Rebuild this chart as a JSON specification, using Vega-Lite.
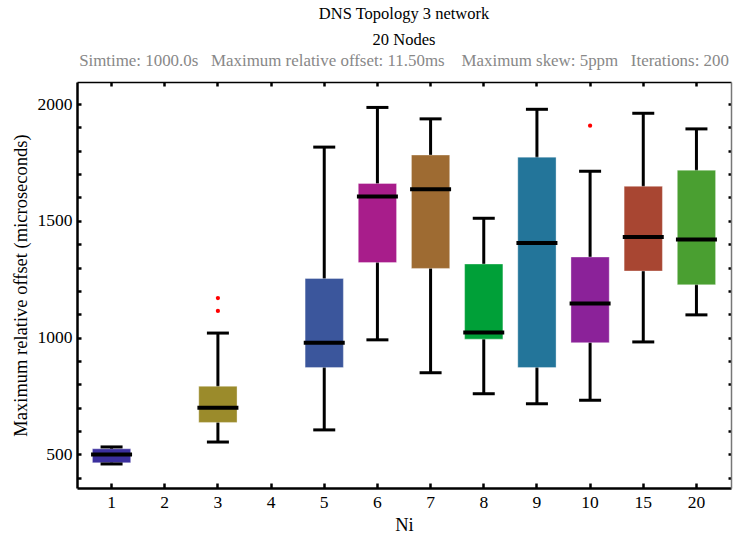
{
  "$schema": "https://vega.github.io/schema/vega-lite/v6.json",
  "width": 654,
  "height": 406,
  "autosize": {"type": "none"},
  "padding": {"left": 77, "top": 82, "right": 3, "bottom": 49},
  "background": "white",
  "config": {
    "view": {"stroke": null},
    "axis": {"grid": false, "labelFont": "Liberation Serif", "titleFont": "Liberation Serif", "labelColor": "black", "titleColor": "black", "titleFontWeight": "normal"}
  },
  "title": {
    "text": ["DNS Topology 3 network", "20 Nodes"],
    "subtitle": "Simtime: 1000.0s\u00a0\u00a0\u00a0Maximum relative offset: 11.50ms\u00a0\u00a0\u00a0\u00a0Maximum skew: 5ppm\u00a0\u00a0\u00a0Iterations: 200",
    "font": "Liberation Serif",
    "subtitleFont": "Liberation Serif",
    "fontSize": 16.5,
    "fontWeight": "normal",
    "lineHeight": 26,
    "color": "black",
    "subtitleFontSize": 16.9,
    "subtitleColor": "#888888",
    "subtitlePadding": 4,
    "anchor": "middle",
    "offset": 12
  },
  "datasets": {
    "boxes": [
      {"Ni": "1", "lo": 458, "q1": 463, "med": 499, "q3": 523, "hi": 531},
      {"Ni": "3", "lo": 552, "q1": 636, "med": 699, "q3": 791, "hi": 1019},
      {"Ni": "5", "lo": 604, "q1": 871, "med": 977, "q3": 1253, "hi": 1816},
      {"Ni": "6", "lo": 990, "q1": 1321, "med": 1604, "q3": 1660, "hi": 1986},
      {"Ni": "7", "lo": 849, "q1": 1296, "med": 1635, "q3": 1782, "hi": 1937},
      {"Ni": "8", "lo": 759, "q1": 993, "med": 1021, "q3": 1315, "hi": 1511},
      {"Ni": "9", "lo": 716, "q1": 871, "med": 1405, "q3": 1773, "hi": 1978},
      {"Ni": "10", "lo": 731, "q1": 978, "med": 1146, "q3": 1345, "hi": 1713},
      {"Ni": "15", "lo": 981, "q1": 1285, "med": 1431, "q3": 1648, "hi": 1961},
      {"Ni": "20", "lo": 1097, "q1": 1226, "med": 1420, "q3": 1717, "hi": 1894}
    ],
    "outliers": [
      {"Ni": "3", "v": 1169},
      {"Ni": "3", "v": 1114},
      {"Ni": "10", "v": 1908}
    ]
  },
  "resolve": {"axis": {"x": "independent", "y": "independent"}},
  "layer": [
    {
      "data": {"name": "boxes"},
      "mark": {"type": "rule", "strokeWidth": 3, "color": "black"},
      "encoding": {
        "x": {
          "field": "Ni", "type": "ordinal",
          "scale": {"domain": ["1", "2", "3", "4", "5", "6", "7", "8", "9", "10", "15", "20"], "paddingInner": 0.28, "paddingOuter": 0.29},
          "axis": {"orient": "bottom", "title": "Ni", "titleFontSize": 18.5, "labelFontSize": 17.5, "labelAngle": 0, "tickSize": -5, "tickWidth": 2.5, "tickColor": "black", "domainColor": "black", "domainWidth": 2.5, "labelPadding": 10, "titlePadding": 5}
        },
        "y": {
          "field": "lo", "type": "quantitative",
          "scale": {"domain": [355, 2095], "nice": false, "zero": false},
          "axis": {"orient": "left", "title": "Maximum relative offset (microseconds)", "titleFontSize": 18.5, "labelFontSize": 17.5,
            "values": [400, 500, 600, 700, 800, 900, 1000, 1100, 1200, 1300, 1400, 1500, 1600, 1700, 1800, 1900, 2000],
            "labelExpr": "datum.value % 500 === 0 ? datum.label : ''",
            "format": "d", "tickSize": -4, "tickWidth": 2.5, "tickColor": "black", "domainColor": "black", "domainWidth": 2.5, "labelPadding": 9, "titlePadding": 7}
        },
        "y2": {"field": "hi"}
      }
    },
    {
      "data": {"name": "boxes"},
      "mark": {"type": "bar", "stroke": "white", "strokeOpacity": 0.35, "strokeWidth": 1},
      "encoding": {
        "x": {"field": "Ni", "type": "ordinal", "axis": null},
        "y": {"field": "q1", "type": "quantitative", "axis": null},
        "y2": {"field": "q3"},
        "color": {
          "field": "Ni", "type": "nominal", "legend": null,
          "scale": {"domain": ["1", "3", "5", "6", "7", "8", "9", "10", "15", "20"],
            "range": ["#3b2f9e", "#9b8b2b", "#3b569c", "#a81d8b", "#9e6b32", "#00a038", "#23759a", "#8b2299", "#a84632", "#4a9f31"]}
        }
      }
    },
    {
      "data": {"name": "boxes"},
      "mark": {"type": "tick", "color": "black", "thickness": 3, "size": 22, "opacity": 1},
      "encoding": {
        "x": {"field": "Ni", "type": "ordinal", "axis": null},
        "y": {"field": "hi", "type": "quantitative", "axis": null}
      }
    },
    {
      "data": {"name": "boxes"},
      "mark": {"type": "tick", "color": "black", "thickness": 3, "size": 22, "opacity": 1},
      "encoding": {
        "x": {"field": "Ni", "type": "ordinal", "axis": null},
        "y": {"field": "lo", "type": "quantitative", "axis": null}
      }
    },
    {
      "data": {"name": "boxes"},
      "mark": {"type": "tick", "color": "black", "thickness": 4, "size": 41, "opacity": 1},
      "encoding": {
        "x": {"field": "Ni", "type": "ordinal", "axis": null},
        "y": {"field": "med", "type": "quantitative", "axis": null}
      }
    },
    {
      "data": {"name": "outliers"},
      "mark": {"type": "circle", "color": "red", "size": 18, "opacity": 1},
      "encoding": {
        "x": {"field": "Ni", "type": "ordinal",
          "axis": {"orient": "top", "title": null, "labels": false, "tickSize": -4, "tickWidth": 2.5, "tickColor": "black", "domainColor": "black", "domainWidth": 1.5}},
        "y": {"field": "v", "type": "quantitative",
          "axis": {"orient": "right", "title": null, "labels": false,
            "values": [400, 500, 600, 700, 800, 900, 1000, 1100, 1200, 1300, 1400, 1500, 1600, 1700, 1800, 1900, 2000],
            "tickSize": -3, "tickWidth": 2.5, "tickColor": "black", "domainColor": "#777777", "domainWidth": 1.5}}
      }
    }
  ]
}
